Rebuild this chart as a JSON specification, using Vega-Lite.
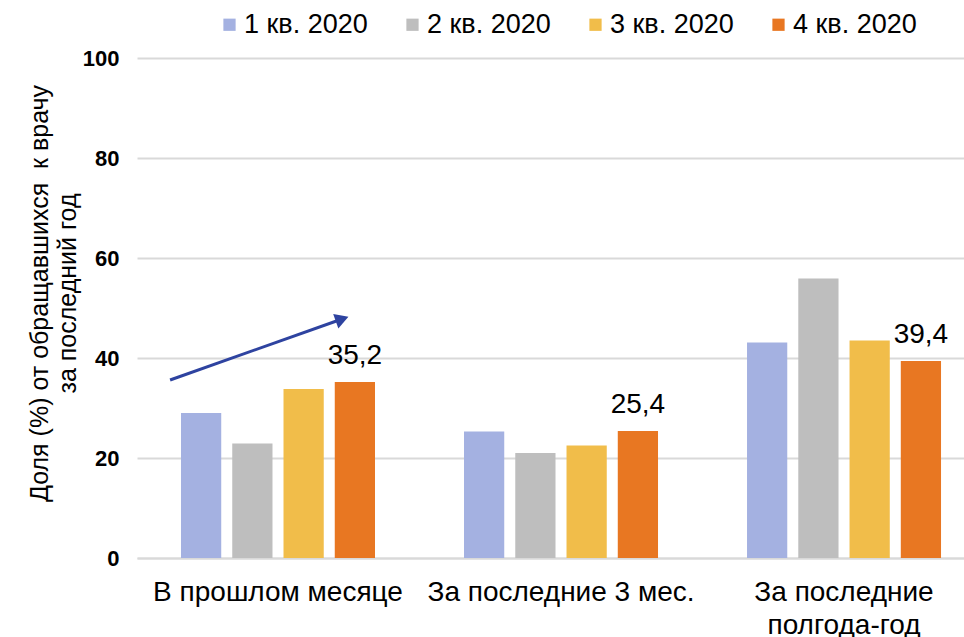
{
  "$schema": "https://vega.github.io/schema/vega-lite/v6.json",
  "width": 827,
  "height": 500,
  "autosize": {"type": "none"},
  "padding": {"left": 137, "top": 58, "right": 0, "bottom": 79},
  "background": "white",
  "config": {
    "font": "Liberation Sans",
    "view": {"stroke": null},
    "locale": {"number": {"decimal": ",", "thousands": " ", "grouping": [3], "currency": ["", ""]}}
  },
  "datasets": {
    "bars": [
      {"cat": "В прошлом месяце", "q": "1 кв. 2020", "v": 29.0},
      {"cat": "В прошлом месяце", "q": "2 кв. 2020", "v": 22.9},
      {"cat": "В прошлом месяце", "q": "3 кв. 2020", "v": 33.8},
      {"cat": "В прошлом месяце", "q": "4 кв. 2020", "v": 35.2},
      {"cat": "За последние 3 мес.", "q": "1 кв. 2020", "v": 25.3},
      {"cat": "За последние 3 мес.", "q": "2 кв. 2020", "v": 21.0},
      {"cat": "За последние 3 мес.", "q": "3 кв. 2020", "v": 22.5},
      {"cat": "За последние 3 мес.", "q": "4 кв. 2020", "v": 25.4},
      {"cat": "За последние полгода-год", "q": "1 кв. 2020", "v": 43.1},
      {"cat": "За последние полгода-год", "q": "2 кв. 2020", "v": 55.9},
      {"cat": "За последние полгода-год", "q": "3 кв. 2020", "v": 43.5},
      {"cat": "За последние полгода-год", "q": "4 кв. 2020", "v": 39.4}
    ],
    "arrow": [
      {"x0": 0.12, "y0": 35.6, "x1": 0.744, "y1": 47.8}
    ]
  },
  "layer": [
    {
      "data": {"name": "bars"},
      "encoding": {
        "x": {
          "field": "cat", "type": "nominal", "sort": null,
          "scale": {"paddingInner": 0.3145, "paddingOuter": 0.1183, "align": 0.657},
          "axis": {
            "title": null, "labelAngle": 0, "labelFontSize": 28, "labelColor": "#000",
            "labelPadding": 20, "labelLineHeight": 33, "ticks": false, "labelLimit": 500,
            "domainColor": "#D9D9D9", "domainWidth": 2,
            "labelExpr": "datum.label == 'За последние полгода-год' ? ['За последние', 'полгода-год'] : datum.label"
          }
        },
        "xOffset": {
          "field": "q", "type": "nominal", "sort": null,
          "scale": {"paddingInner": 0.215, "paddingOuter": 0}
        },
        "y": {
          "field": "v", "type": "quantitative",
          "scale": {"domain": [0, 100], "nice": false},
          "axis": {
            "values": [0, 20, 40, 60, 80, 100],
            "title": ["Доля (%) от обращавшихся\u00a0 к врачу", "за последний год"],
            "titleFontSize": 25, "titleFontWeight": "normal", "titleColor": "#000",
            "titleLineHeight": 28, "titlePadding": 2, "titleY": 235,
            "labelFontSize": 22, "labelFontWeight": "bold", "labelColor": "#000",
            "labelPadding": 18, "ticks": false, "domain": false,
            "gridColor": "#D9D9D9", "gridWidth": 2
          }
        }
      },
      "layer": [
        {
          "mark": {"type": "bar"},
          "encoding": {
            "color": {
              "field": "q", "type": "nominal", "sort": null,
              "scale": {"range": ["#A4B1E1", "#BEBEBE", "#F1BD4A", "#E87722"]},
              "legend": {
                "title": null, "orient": "none", "direction": "horizontal",
                "legendX": 79, "legendY": -47, "columns": 4,
                "symbolType": "square", "symbolSize": 150, "symbolStrokeWidth": 0,
                "labelFontSize": 27, "labelColor": "#000", "labelOffset": 1,
                "columnPadding": 31, "labelLimit": 300
              }
            }
          }
        },
        {
          "transform": [{"filter": "datum.q == '4 кв. 2020'"}],
          "mark": {"type": "text", "baseline": "alphabetic", "dy": -18, "fontSize": 28, "color": "#000"},
          "encoding": {
            "text": {"field": "v", "type": "quantitative", "format": ".1f"}
          }
        }
      ]
    },
    {
      "data": {"name": "arrow"},
      "layer": [
        {
          "mark": {"type": "rule", "color": "#2E43A0", "strokeWidth": 3},
          "encoding": {
            "x": {"field": "x0", "type": "quantitative", "scale": {"domain": [0, 3], "nice": false, "zero": false}, "axis": null},
            "x2": {"field": "x1"},
            "y": {"field": "y0", "type": "quantitative"},
            "y2": {"field": "y1"}
          }
        },
        {
          "mark": {"type": "point", "shape": "triangle-right", "filled": true, "color": "#2E43A0", "opacity": 1, "size": 240, "angle": 340.5},
          "encoding": {
            "x": {"field": "x1", "type": "quantitative", "scale": {"domain": [0, 3], "nice": false, "zero": false}, "axis": null},
            "y": {"field": "y1", "type": "quantitative"}
          }
        }
      ]
    }
  ],
  "resolve": {"scale": {"x": "independent"}, "axis": {"x": "independent"}}
}
